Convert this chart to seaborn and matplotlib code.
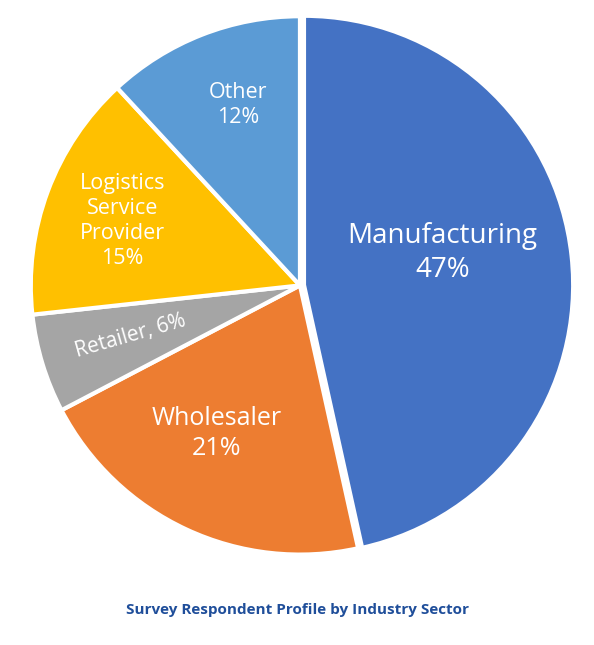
import matplotlib
matplotlib.use("Agg")
import matplotlib.pyplot as plt
import seaborn as sns

sns.set_theme(style="white")
plt.rcParams['font.family'] = ['Open Sans', 'DejaVu Sans']

categories = ["Manufacturing", "Wholesaler", "Retailer", "Logistics\nService\nProvider", "Other"]
values = [47, 21, 6, 15, 12]
colors = ["#4472C4", "#ED7D31", "#A5A5A5", "#FFC000", "#5B9BD5"]
title = "Survey Respondent Profile by Industry Sector"

fig = plt.figure(figsize=(5.94, 6.45), dpi=100)
ax = fig.add_axes([0.047, 0.136, 0.916, 0.843])
ax.pie(values, colors=colors, startangle=90, counterclock=False,
       explode=[0.015, 0, 0, 0, 0],
       wedgeprops=dict(edgecolor="white", linewidth=3))
ax.set_xlim(-1.01, 1.01)
ax.set_ylim(-1.01, 1.01)
ax.set_aspect("equal")

pos = [(0.53, 0.12), (-0.31, -0.55), (-0.63, -0.19), (-0.66, 0.24), (-0.23, 0.67)]
for i, (c, v) in enumerate(zip(categories, values)):
    x, y = pos[i]
    if i == 2:
        ax.text(x, y, f"{c}, {v}%", color="white", fontsize=15, ha="center", va="center", rotation=16)
    else:
        ax.text(x, y, f"{c}\n{v}%", color="white", fontsize=20 if i == 0 else (18 if i == 1 else 15.5),
                ha="center", va="center", linespacing=1.25)

fig.text(0.5, 0.055, title, ha="center", va="center", color="#1F4E9A",
         fontsize=11, fontweight="bold")
fig.savefig("out.png", dpi=100, facecolor="white")
